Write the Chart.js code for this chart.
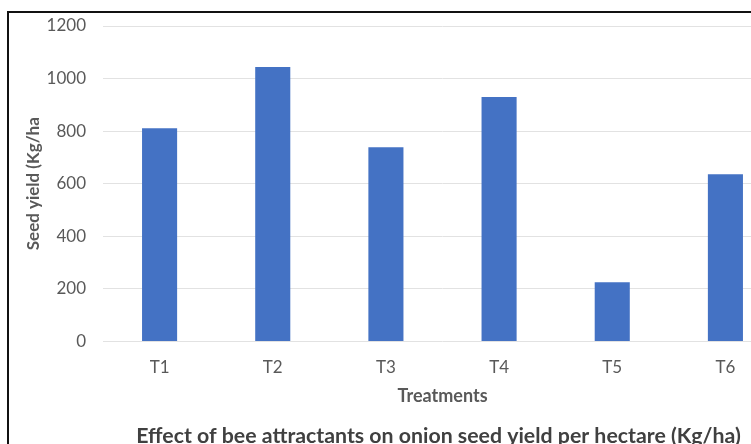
<!DOCTYPE html>
<html>
<head>
<meta charset="utf-8">
<script src="https://cdn.jsdelivr.net/npm/chart.js@4.4.1/dist/chart.umd.min.js"></script>
<style>
  html, body { margin: 0; padding: 0; background: #fff; overflow: hidden; width: 751px; height: 444px; }
  #frame { position: absolute; left: 7px; top: 11px; border-left: 2px solid #111; border-top: 2px solid #111; }
  #myChart { display: block; }
</style>
</head>
<body>
<div id="frame"><canvas id="myChart" width="859" height="436"></canvas></div>
<script>
var treatments = ['T1', 'T2', 'T3', 'T4', 'T5', 'T6'];
var seedYield = [811, 1044, 739, 930, 225, 636];
var yTicks = [0, 200, 400, 600, 800, 1000, 1200];

var fontFamily = 'Lato, "Open Sans", sans-serif';

new Chart("myChart", {
    type: 'bar',
    data: {
        labels: treatments,
        datasets: [{
            label: 'Seed yield',
            backgroundColor: '#4472C4',
            data: seedYield,
            barPercentage: 0.62,
            categoryPercentage: 0.5
        }]
    },
    options: {
        responsive: false,
        animation: false,
        devicePixelRatio: 1,
        layout: {
            padding: { left: 0, right: 0, top: 0, bottom: 0 }
        },
        plugins: {
            legend: { display: false },
            tooltip: { enabled: false },
            title: {
                display: true,
                position: 'bottom',
                text: 'Effect of bee attractants on onion seed yield per hectare (Kg/ha)',
                color: '#404040',
                font: { family: fontFamily, size: 21.3, weight: 'bold' },
                padding: { top: 16, bottom: 0 }
            }
        },
        scales: {
            x: {
                grid: { display: false, drawTicks: false },
                border: { display: false },
                ticks: { color: '#595959', font: { family: fontFamily, size: 17 }, padding: 16 },
                title: {
                    display: true,
                    text: 'Treatments',
                    color: '#595959',
                    font: { family: fontFamily, size: 18, weight: 'bold' },
                    padding: { top: -8, bottom: 0 }
                }
            },
            y: {
                min: 0,
                max: 1200,
                afterBuildTicks: function (scale) {
                    scale.ticks = yTicks.map(function (v) { return { value: v }; });
                },
                afterFit: function (scale) {
                    scale.width = 94;
                    scale.paddingTop = 13;
                },
                grid: { color: '#e2e2e2', drawTicks: false },
                border: { display: false },
                ticks: {
                    color: '#595959',
                    font: { family: fontFamily, size: 17 },
                    padding: 17,
                    callback: function (value) { return String(value); }
                },
                title: {
                    display: true,
                    text: 'Seed yield (Kg/ha',
                    color: '#595959',
                    font: { family: fontFamily, size: 17, weight: 'bold' },
                    padding: { top: 14, bottom: 0 }
                }
            },
            // empty space on the right (the chart is cut off there)
            yRight: {
                position: 'right',
                grid: { display: false, drawTicks: false },
                border: { display: false },
                ticks: { display: false },
                afterFit: function (scale) {
                    scale.width = 86;
                    scale.paddingTop = 0;
                }
            }
        }
    }
});
</script>
</body>
</html>
